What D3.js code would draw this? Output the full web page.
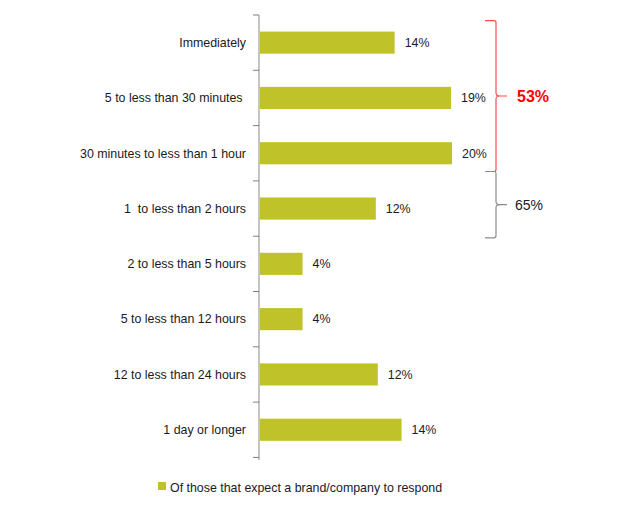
<!DOCTYPE html>
<html lang="en">
<head>
  <meta charset="UTF-8">
  <title>Response time</title>
  <script src="https://d3js.org/d3.v7.min.js"></script>
  <style>
    body { margin: 0; background: #fff; }
    text { font-family: "Liberation Sans", Arial, sans-serif; }
  </style>
</head>
<body>
  <svg id="chart"></svg>
  <script>
    // categories and shares (percent)
    const categories = [
      "Immediately",
      "5 to less than 30 minutes ",
      "30 minutes to less than 1 hour",
      "1  to less than 2 hours",
      "2 to less than 5 hours",
      "5 to less than 12 hours",
      "12 to less than 24 hours",
      "1 day or longer"
    ];
    const values = [13.7, 19.4, 19.5, 11.8, 4.4, 4.4, 12.0, 14.4];
    const seriesName = "Of those that expect a brand/company to respond";

    // cumulative brackets on the right (in category units)
    const bracketFrom = [-0.4, 2.33];
    const bracketTo = [2.33, 3.53];
    const bracketLabels = ["53%", "65%"];

    const width = 633, height = 515;
    const axisX = 259;
    const fs = 12.4;

    const svg = d3.select("#chart").attr("width", width).attr("height", height);

    const y = d3.scaleBand().domain(categories).range([15, 457.4])
      .paddingInner(0.6).paddingOuter(0.3);
    const x = d3.scaleLinear().domain([0, 20]).range([axisX, axisX + 198]);

    const step = y.step();
    const center = i => y(categories[0]) + y.bandwidth() / 2 + i * step;

    // bars
    svg.append("g").selectAll("rect")
      .data(values)
      .join("rect")
      .attr("x", x(0))
      .attr("y", (d, i) => y(categories[i]))
      .attr("width", d => x(d) - x(0))
      .attr("height", y.bandwidth())
      .attr("fill", "#bfc228");

    // value labels
    svg.append("g").selectAll("text")
      .data(values)
      .join("text")
      .attr("x", d => x(d) + 10)
      .attr("y", (d, i) => y(categories[i]) + y.bandwidth() / 2)
      .attr("dy", "0.35em")
      .attr("font-size", fs)
      .attr("fill", "#1a1a2a")
      .text(d => Math.round(d) + "%");

    // category axis
    const axis = svg.append("g");
    axis.append("line")
      .attr("x1", axisX).attr("x2", axisX)
      .attr("y1", 15).attr("y2", 460)
      .attr("stroke", "#c4c4c4").attr("stroke-width", 2);

    const bounds = d3.range(categories.length + 1).map(i => 15 + i * step);
    axis.selectAll(".tick").data(bounds).join("line")
      .attr("class", "tick")
      .attr("x1", axisX - 6).attr("x2", axisX)
      .attr("y1", d => d).attr("y2", d => d)
      .attr("stroke", "#7f7f7f").attr("stroke-width", 1);

    axis.selectAll(".cat").data(categories).join("text")
      .attr("class", "cat")
      .attr("x", 246)
      .attr("y", d => y(d) + y.bandwidth() / 2)
      .attr("dy", "0.35em")
      .attr("text-anchor", "end")
      .attr("font-size", fs)
      .attr("fill", "#1a1a1a")
      .style("white-space", "pre")
      .text(d => d);

    // brackets
    const bx = 496;
    const brackets = bracketLabels.map((l, i) => ({
      top: center(bracketFrom[i]),
      bottom: center(bracketTo[i]),
      label: l,
      red: i === 0
    }));

    const bg = svg.append("g").selectAll("g").data(brackets).join("g");
    bg.append("path")
      .attr("fill", "none")
      .attr("stroke", d => d.red ? "#ff4b4b" : "#8c8c8c")
      .attr("stroke-width", 1.2)
      .attr("d", d => {
        const m = (d.top + d.bottom) / 2;
        return `M485,${d.top} L${bx - 2},${d.top} Q${bx},${d.top} ${bx},${d.top + 2}` +
          ` L${bx},${m - 3} Q${bx},${m} ${bx + 4},${m} L${bx + 11},${m}` +
          ` M${bx + 4},${m} Q${bx},${m} ${bx},${m + 3}` +
          ` L${bx},${d.bottom - 2} Q${bx},${d.bottom} ${bx - 2},${d.bottom} L485,${d.bottom}`;
      });
    bg.append("text")
      .attr("x", d => d.red ? 517 : 515)
      .attr("y", d => (d.top + d.bottom) / 2)
      .attr("dy", "0.35em")
      .attr("font-size", d => d.red ? 16 : 14)
      .attr("font-weight", d => d.red ? "bold" : "normal")
      .attr("fill", d => d.red ? "#ff0000" : "#1a1a2a")
      .text(d => d.label);

    // legend
    const lg = svg.append("g").attr("transform", "translate(158,482)");
    lg.append("rect").attr("width", 8).attr("height", 8).attr("fill", "#bfc228");
    lg.append("text").attr("x", 12).attr("y", 5.5).attr("dy", "0.35em")
      .attr("font-size", fs).attr("fill", "#1a1a2a").text(seriesName);
  </script>
</body>
</html>
